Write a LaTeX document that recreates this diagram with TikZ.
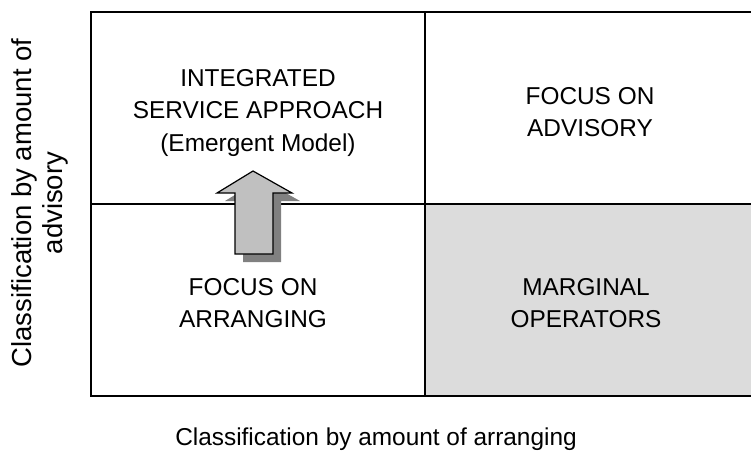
\documentclass[tikz,border=0pt]{standalone}
\usepackage{fontspec}
\setmainfont{Liberation Sans}
\definecolor{shadegray}{RGB}{220,220,220}
\definecolor{arrowfill}{RGB}{192,192,192}
\definecolor{shadowgray}{RGB}{128,128,128}
\begin{document}
\begin{tikzpicture}[x=1pt,y=-1pt,
  lbl/.style={font=\fontsize{24.4}{32.5}\selectfont,align=center,inner sep=0pt},
  axislbl/.style={font=\fontsize{27.5}{30.5}\selectfont,align=center,inner sep=0pt},
  frame/.style={line width=1.8pt,black},
  arrowbody/.style={fill=arrowfill,draw=black,line width=1.2pt,line join=miter},
  arrowshadow/.style={fill=shadowgray}]
\useasboundingbox (0,0) rectangle (751,450);
\clip (0,0) rectangle (751,450);
\fill[shadegray] (425,204) rectangle (770,396);
\draw[frame] (91,12) rectangle (770,396);
\draw[frame] (425,12) -- (425,396);
\draw[frame] (91,204) -- (770,204);
% arrow shadow
\fill[arrowshadow] (261,179) -- (300,201) -- (281,201) -- (281,262) -- (243,262) -- (243,201) -- (225,201) -- cycle;
% arrow
\draw[arrowbody] (253,171) -- (292,193) -- (273,193) -- (273,254) -- (235,254) -- (235,193) -- (217,193) -- cycle;
\node[lbl] (tl) at (258,113) {INTEGRATED\\SERVICE APPROACH\\(Emergent Model)};
\node[lbl] (tr) at (590,112) {FOCUS ON\\ADVISORY};
\node[lbl] (bl) at (253,303) {FOCUS ON\\ARRANGING};
\node[lbl] (br) at (586,303) {MARGINAL\\OPERATORS};
\node[lbl] (xl) at (376,439) {Classification by amount of arranging};
\node[axislbl,rotate=90] (yl) at (40,203) {Classification by amount of\\advisory};
\end{tikzpicture}
\end{document}
